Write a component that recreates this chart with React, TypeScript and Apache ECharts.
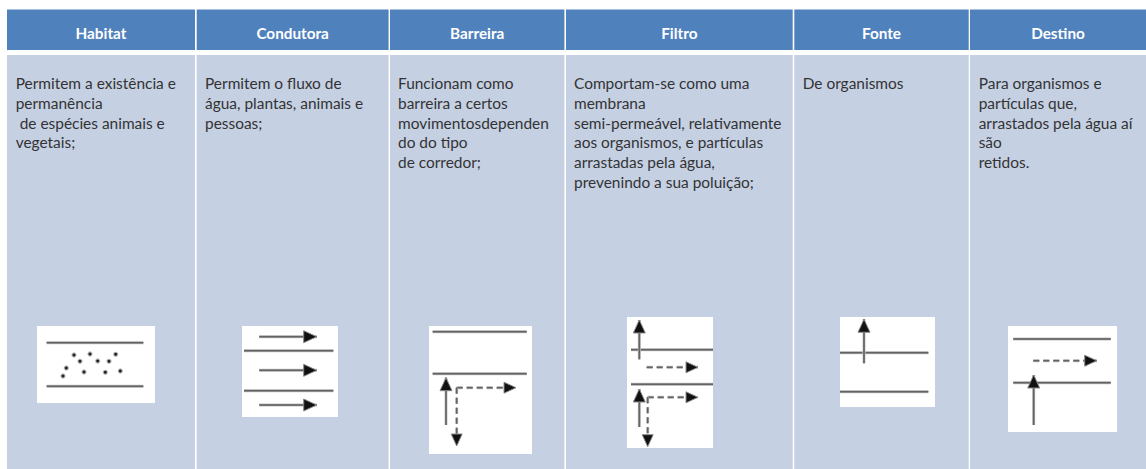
import React, { useEffect, useRef } from "react";
import * as echarts from "echarts";

const headers = ["Habitat", "Condutora", "Barreira", "Filtro", "Fonte", "Destino"];
const descriptions = [
  ["Permitem a existência e", "permanência", " de espécies animais e", "vegetais;"],
  ["Permitem o fluxo de", "água, plantas, animais e", "pessoas;"],
  ["Funcionam como", "barreira a certos", "movimentosdependen", "do do tipo", "de corredor;"],
  ["Comportam-se como uma", "membrana", "semi-permeável, relativamente", "aos organismos, e partículas", "arrastadas pela água,", "prevenindo a sua poluição;"],
  ["De organismos"],
  ["Para organismos e", "partículas que,", "arrastados pela água aí", "são", "retidos."],
];

const colLeft = [7, 196.7, 390, 566, 794.3, 970];
const colRight = [195, 388.6, 564.4, 792.7, 968.7, 1146];
const textLeft = [15.7, 205, 398, 574, 802.7, 978.7];

const whiteBoxes = [
  [37, 326, 118, 77],
  [242, 326, 96, 91],
  [429, 326, 103, 128],
  [627, 317, 86, 131],
  [840, 317, 95, 90],
  [1008, 326, 109, 106],
];
const riverBanks = [
  [46.7, 342.7, 143.3, 342.7], [46.7, 386.3, 143.3, 386.3],
  [244, 350.7, 333.3, 350.7], [244, 390.7, 333.3, 390.7],
  [432.7, 331.7, 526.7, 331.7], [432.7, 373.7, 526.7, 373.7],
  [631, 349.7, 713, 349.7], [631, 384.3, 713, 384.3],
  [840, 352.7, 928.3, 352.7], [840, 391.7, 928.3, 391.7],
  [1013.3, 339, 1110.7, 339], [1013.3, 382.7, 1110.7, 382.7],
];
const solidArrows = [
  [259.3, 336.7, 316.7, 336.7], [259.3, 370.3, 316.7, 370.3], [259.3, 405, 316.7, 405],
  [446, 425, 446, 377.7],
  [639.3, 359.3, 639.3, 320], [639.3, 427, 639.3, 389],
  [864, 363.3, 864, 319.3],
  [1033.7, 425, 1033.7, 375],
];
const dashedArrows = [
  [456.7, 387.7, 516, 387.7], [456.7, 387.7, 456.7, 446],
  [646.7, 367.3, 698, 367.3],
  [647.7, 397.3, 698, 397.3], [647.7, 397.3, 647.7, 446.7],
  [1033.3, 360.7, 1096.7, 360.7],
];
const particles = [
  [74, 355], [90, 354], [115.7, 354.3], [80, 361.3], [97.7, 361], [109, 361.3],
  [66.3, 368], [63, 376], [84, 372], [105.3, 372.3], [120.3, 371],
];

const HEADER_TOP = 9.5;
const HEADER_BOTTOM = 50;
const BODY_TOP = 55;
const BODY_BOTTOM = 469;
const FIRST_LINE_Y = 83;
const LINE_STEP = 19.75;
const FONT = "Lato, 'Open Sans', sans-serif";

function line(c: number[], stroke: string, width: number, dash?: number[]) {
  return {
    type: "line",
    shape: { x1: c[0], y1: c[1], x2: c[2], y2: c[3] },
    style: { stroke, lineWidth: width, lineDash: dash },
  };
}
function softLine(c: number[], dash?: number[]) {
  return [line(c, "#c4c4c4", 3, dash), line(c, "#8a8a8a", 2, dash), line(c, "#5a5a5a", 1, dash)];
}
function arrowHead(c: number[], len: number, half: number) {
  const dx = c[2] - c[0];
  const dy = c[3] - c[1];
  const n = Math.hypot(dx, dy);
  const ux = dx / n;
  const uy = dy / n;
  const bx = c[2] - ux * len;
  const by = c[3] - uy * len;
  return {
    type: "polygon",
    shape: {
      points: [
        [c[2], c[3]],
        [bx - uy * half, by + ux * half],
        [bx + uy * half, by - ux * half],
      ],
    },
    style: { fill: "#111111", stroke: "#8a8a8a", lineWidth: 1 },
  };
}

function buildElements() {
  const els: any[] = [];
  headers.forEach((h, i) => {
    els.push({
      type: "rect",
      shape: { x: colLeft[i], y: HEADER_TOP, width: colRight[i] - colLeft[i], height: HEADER_BOTTOM - HEADER_TOP },
      style: { fill: "#4F81BD" },
    });
    els.push({
      type: "rect",
      shape: { x: colLeft[i], y: BODY_TOP, width: colRight[i] - colLeft[i], height: BODY_BOTTOM - BODY_TOP },
      style: { fill: "#C5D0E3" },
    });
    els.push({
      type: "text",
      style: {
        text: h,
        x: (colLeft[i] + colRight[i]) / 2,
        y: 33,
        align: "center",
        verticalAlign: "middle",
        fill: "#ffffff",
        font: `bold 15.3px ${FONT}`,
      },
    });
    descriptions[i].forEach((t, j) => {
      els.push({
        type: "text",
        style: {
          text: t,
          x: textLeft[i],
          y: FIRST_LINE_Y + j * LINE_STEP,
          align: "left",
          verticalAlign: "middle",
          fill: "#333333",
          font: `15.45px ${FONT}`,
        },
      });
    });
  });
  whiteBoxes.forEach((b) =>
    els.push({ type: "rect", shape: { x: b[0], y: b[1], width: b[2], height: b[3] }, style: { fill: "#ffffff" } })
  );
  riverBanks.forEach((c) => els.push(...softLine(c)));
  solidArrows.forEach((c) => {
    els.push(...softLine(c));
    els.push(arrowHead(c, 13, 6));
  });
  dashedArrows.forEach((c) => {
    els.push(...softLine(c, [6, 4]));
    els.push(arrowHead(c, 12, 5.5));
  });
  particles.forEach((p) => {
    els.push({ type: "circle", shape: { cx: p[0], cy: p[1], r: 2.6 }, style: { fill: "#b5b5b5" } });
    els.push({ type: "circle", shape: { cx: p[0], cy: p[1], r: 1.5 }, style: { fill: "#222222" } });
  });
  return els;
}

export default function App() {
  const ref = useRef<HTMLDivElement>(null);
  useEffect(() => {
    document.body.style.margin = "0";
    const chart = echarts.init(ref.current!, null, { renderer: "svg" });
    chart.setOption({
      animation: false,
      backgroundColor: "#ffffff",
      graphic: { elements: buildElements() },
    });
    return () => chart.dispose();
  }, []);
  return <div ref={ref} style={{ width: 1146, height: 469 }} />;
}
